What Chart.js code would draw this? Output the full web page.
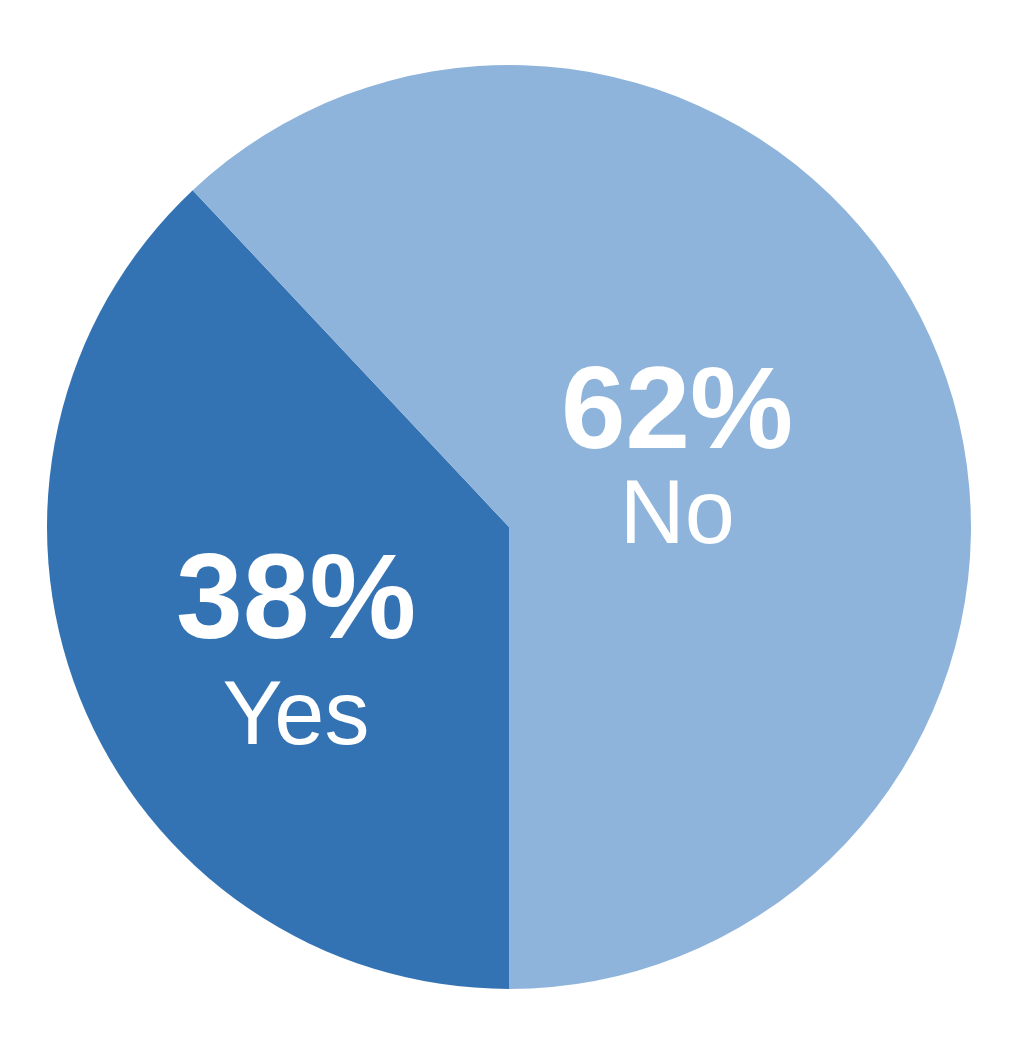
<!DOCTYPE html>
<html>
<head>
<meta charset="utf-8">
<title>Yes / No</title>
<script src="https://cdn.jsdelivr.net/npm/chart.js@4/dist/chart.umd.min.js"></script>
<style>
    html, body { margin: 0; padding: 0; background: #ffffff; }
    #wrap { width: 1015px; height: 1055px; }
</style>
</head>
<body>
<div id="wrap"><canvas id="pieChart"></canvas></div>
<script>
// Chart data
const categories = ["Yes", "No"];
const shares = [38, 62];
const sliceColors = ["#3473b3", "#8fb4db"];

// where each slice's text sits, relative to the pie centre (in radius units)
const labelSpots = [
    { dx: -0.461, pctY: 0.240, nameY: 0.470 },
    { dx: 0.364, pctY: -0.171, nameY: 0.035 }
];

// Draws "38%" over "Yes" etc. inside each slice
const sliceLabels = {
    id: "sliceLabels",
    afterDatasetsDraw(chart) {
        const ctx = chart.ctx;
        const arcs = chart.getDatasetMeta(0).data;
        ctx.save();
        ctx.fillStyle = "#ffffff";
        ctx.textAlign = "center";
        ctx.textBaseline = "alphabetic";
        arcs.forEach((arc, i) => {
            const r = arc.outerRadius;
            const spot = labelSpots[i];
            const x = arc.x + spot.dx * r;
            ctx.font = "bold " + (i === 0 ? 120 : 116) + "px 'Liberation Sans', Arial, sans-serif";
            ctx.fillText(shares[i] + "%", x, arc.y + spot.pctY * r);
            ctx.font = "90px 'Liberation Sans', Arial, sans-serif";
            ctx.fillText(categories[i], x, arc.y + spot.nameY * r);
        });
        ctx.restore();
    }
};

new Chart(document.getElementById("pieChart"), {
    type: "pie",
    data: {
        labels: categories,
        datasets: [{
            data: shares,
            backgroundColor: sliceColors,
            borderWidth: 0
        }]
    },
    options: {
        responsive: true,
        maintainAspectRatio: false,
        animation: false,
        rotation: 180,
        layout: { padding: { left: 47, right: 44, top: 65, bottom: 66 } },
        plugins: {
            legend: { display: false },
            tooltip: { enabled: false }
        }
    },
    plugins: [sliceLabels]
});
</script>
</body>
</html>
